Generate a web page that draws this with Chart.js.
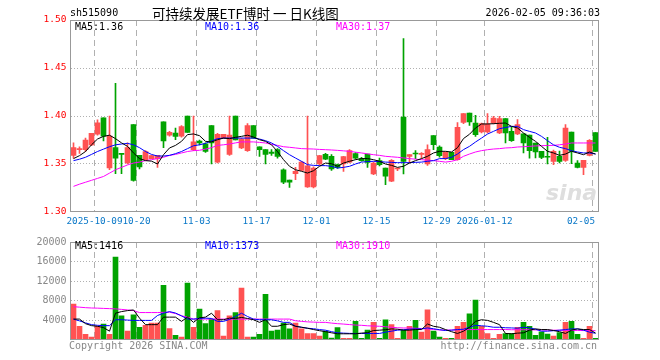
<!DOCTYPE html>
<html>
<head>
<meta charset="utf-8">
<script src="https://cdn.jsdelivr.net/npm/chart.js@4.4.1/dist/chart.umd.min.js"></script>
<style>
  html, body { margin: 0; padding: 0; background: #fff; }
  #wrap { position: relative; width: 660px; height: 360px; overflow: hidden; }
  canvas { position: absolute; left: 0; }
  .t { position: absolute; white-space: nowrap; font-family: "DejaVu Sans Mono", monospace; font-size: 10px; line-height: 12px; }
</style>
</head>
<body>
<div id="wrap">
  <canvas id="price" width="660" height="232" style="top:0"></canvas>
  <canvas id="vol" width="660" height="128" style="top:232px"></canvas>

  <div class="t" style="left:70px;top:7px;color:#000;">sh515090</div>
  <div class="t" style="left:152px;top:4px;font-family:'Noto Sans CJK SC',sans-serif;font-size:13.5px;line-height:18px;color:#000;">可持续发展ETF博时 一 日K线图</div>
  <div class="t" style="right:60px;top:7px;color:#000;">2026-02-05 09:36:03</div>

  <div class="t" style="left:75px;top:21px;color:#000;">MA5:1.36</div>
  <div class="t" style="left:205px;top:21px;color:#0000ff;">MA10:1.36</div>
  <div class="t" style="left:336px;top:21px;color:#ff00ff;">MA30:1.37</div>

  <div class="t" style="left:75px;top:240px;color:#000;">MA5:1416</div>
  <div class="t" style="left:205px;top:240px;color:#0000ff;">MA10:1373</div>
  <div class="t" style="left:336px;top:240px;color:#ff00ff;">MA30:1910</div>

  <div class="t" style="left:546px;top:180px;font-family:'DejaVu Sans',sans-serif;font-size:22px;line-height:26px;font-style:italic;font-weight:bold;color:#dedede;">sina</div>

  <div class="t" style="left:69px;top:340px;color:#888;">Copyright 2026 SINA.COM</div>
  <div class="t" style="right:63px;top:340px;color:#888;">http://finance.sina.com.cn</div>
</div>

<script>
// trading days shown on the chart
const dates = [
  '2025-09-25','2025-09-26','2025-09-29','2025-09-30',
  '2025-10-09','2025-10-10','2025-10-13','2025-10-14','2025-10-15','2025-10-16','2025-10-17',
  '2025-10-20','2025-10-21','2025-10-22','2025-10-23','2025-10-24',
  '2025-10-27','2025-10-28','2025-10-29','2025-10-30','2025-10-31',
  '2025-11-03','2025-11-04','2025-11-05','2025-11-06','2025-11-07',
  '2025-11-10','2025-11-11','2025-11-12','2025-11-13','2025-11-14',
  '2025-11-17','2025-11-18','2025-11-19','2025-11-20','2025-11-21',
  '2025-11-24','2025-11-25','2025-11-26','2025-11-27','2025-11-28',
  '2025-12-01','2025-12-02','2025-12-03','2025-12-04','2025-12-05',
  '2025-12-08','2025-12-09','2025-12-10','2025-12-11','2025-12-12',
  '2025-12-15','2025-12-16','2025-12-17','2025-12-18','2025-12-19',
  '2025-12-22','2025-12-23','2025-12-24','2025-12-25','2025-12-26',
  '2025-12-29','2025-12-30','2025-12-31',
  '2026-01-05','2026-01-06','2026-01-07','2026-01-08','2026-01-09',
  '2026-01-12','2026-01-13','2026-01-14','2026-01-15','2026-01-16',
  '2026-01-19','2026-01-20','2026-01-21','2026-01-22','2026-01-23',
  '2026-01-26','2026-01-27','2026-01-28','2026-01-29','2026-01-30',
  '2026-02-02','2026-02-03','2026-02-04','2026-02-05'
];

// x axis labels
const tickDates = ['2025-10-09','2025-10-20','2025-11-03','2025-11-17','2025-12-01','2025-12-15','2025-12-29','2026-01-12','2026-02-05'];
const tickTexts = ['2025-10-09','10-20','11-03','11-17','12-01','12-15','12-29','2026-01-12','02-05'];

const opens = [1.359,1.365,1.365,1.370,1.381,1.398,1.346,1.367,1.3605,1.351,
  1.391,1.359,1.3545,1.3556,1.3556,1.394,1.380,1.3823,1.379,1.400,
  1.365,1.374,1.371,1.390,1.352,1.377,1.360,1.400,1.3667,1.364,
  1.390,1.368,1.365,1.3625,1.365,1.344,1.3333,1.340,1.3434,1.326,
  1.326,1.350,1.360,1.358,1.3493,1.350,1.352,1.3608,1.3556,1.3604,
  1.3396,1.3535,1.3458,1.332,1.3448,1.399,1.358,1.3608,1.3601,1.350,
  1.3795,1.3677,1.3556,1.3622,1.3545,1.3934,1.4031,1.3927,1.3833,1.3833,
  1.3927,1.3823,1.3972,1.384,1.3813,1.3813,1.380,1.3719,1.3632,1.3573,
  1.3528,1.358,1.3538,1.3833,1.351,1.3465,1.359,1.3826];
const highs = [1.372,1.368,1.377,1.382,1.396,1.398,1.400,1.434,1.361,1.372,
  1.391,1.359,1.364,1.359,1.359,1.394,1.384,1.3875,1.390,1.400,
  1.400,1.375,1.372,1.390,1.382,1.381,1.400,1.400,1.377,1.392,
  1.390,1.368,1.365,1.365,1.366,1.345,1.3333,1.3465,1.3528,1.400,
  1.347,1.359,1.361,1.3597,1.350,1.358,1.365,1.362,1.357,1.3604,
  1.352,1.3562,1.3458,1.3545,1.3458,1.4806,1.3597,1.364,1.3618,1.370,
  1.3795,1.369,1.3625,1.3622,1.3931,1.4024,1.4031,1.4007,1.3927,1.4024,
  1.3997,1.3997,1.3972,1.3885,1.3962,1.3813,1.380,1.3719,1.3632,1.3778,
  1.3645,1.3635,1.391,1.3833,1.3535,1.3538,1.3754,1.3826];
const lows = [1.356,1.361,1.363,1.369,1.380,1.374,1.344,1.340,1.340,1.350,
  1.332,1.345,1.354,1.3556,1.3465,1.367,1.379,1.3753,1.378,1.383,
  1.364,1.370,1.362,1.350,1.351,1.377,1.359,1.375,1.366,1.363,
  1.377,1.358,1.350,1.359,1.356,1.3295,1.3257,1.3337,1.343,1.3257,
  1.325,1.349,1.3545,1.3434,1.3455,1.3424,1.351,1.355,1.353,1.3465,
  1.339,1.348,1.3285,1.3316,1.343,1.3396,1.351,1.3556,1.3559,1.3486,
  1.3649,1.357,1.3545,1.3545,1.354,1.392,1.3903,1.3788,1.3823,1.3823,
  1.3917,1.3816,1.3719,1.3736,1.3806,1.3615,1.3562,1.3563,1.3555,1.350,
  1.3493,1.351,1.3528,1.3503,1.3458,1.3389,1.3583,1.3632];
const closes = [1.367,1.366,1.375,1.382,1.393,1.379,1.379,1.356,1.360,1.367,
  1.333,1.347,1.363,1.3587,1.359,1.374,1.383,1.3788,1.389,1.383,
  1.373,1.372,1.363,1.372,1.381,1.381,1.380,1.375,1.376,1.390,
  1.377,1.365,1.360,1.361,1.358,1.331,1.331,1.3424,1.3521,1.348,
  1.3458,1.3587,1.355,1.3448,1.3465,1.3576,1.364,1.3562,1.3535,1.3517,
  1.351,1.3493,1.3372,1.3538,1.3458,1.3528,1.3597,1.3604,1.3604,1.3649,
  1.3701,1.3587,1.3625,1.3545,1.3882,1.4024,1.3938,1.3806,1.392,1.3917,
  1.3979,1.3972,1.3823,1.3743,1.391,1.3719,1.364,1.3625,1.3569,1.357,
  1.3632,1.3528,1.3875,1.3632,1.3465,1.3538,1.3747,1.3632];

// moving averages as drawn on the chart
const ma5 = [1.3556,1.3587,1.363,1.370,1.376,1.3788,1.380,1.3764,1.372,1.3684,
  1.3615,1.3556,1.3535,1.353,1.350,1.3597,1.3667,1.3694,1.3736,1.3806,
  1.3813,1.3795,1.3736,1.373,1.3753,1.377,1.3764,1.3778,1.3788,1.380,
  1.3781,1.3753,1.3736,1.370,1.363,1.3545,1.3476,1.344,1.3424,1.3406,
  1.343,1.3476,1.351,1.3503,1.3476,1.351,1.3528,1.3545,1.3556,1.3556,
  1.3545,1.3528,1.350,1.3486,1.3465,1.3476,1.351,1.3535,1.3556,1.358,
  1.3615,1.3632,1.3632,1.3625,1.367,1.3765,1.381,1.3875,1.3917,1.3917,
  1.392,1.3924,1.3927,1.3892,1.3875,1.3823,1.3778,1.3736,1.3684,1.3632,
  1.3615,1.359,1.3604,1.3632,1.3615,1.3597,1.3625,1.3604];
const ma10 = [1.3535,1.355,1.357,1.360,1.363,1.3655,1.368,1.370,1.3708,1.3715,
  1.370,1.367,1.363,1.360,1.3583,1.3583,1.359,1.3608,1.363,1.366,
  1.369,1.370,1.3715,1.374,1.3764,1.377,1.377,1.377,1.377,1.377,
  1.377,1.376,1.3743,1.3719,1.3684,1.3639,1.3597,1.3562,1.3528,1.3493,
  1.3486,1.3483,1.3483,1.3476,1.3458,1.3465,1.3476,1.350,1.352,1.3525,
  1.3528,1.3525,1.352,1.3517,1.3514,1.3514,1.3514,1.3517,1.352,1.3528,
  1.3535,1.3556,1.3556,1.357,1.3604,1.365,1.3684,1.3729,1.377,1.3812,
  1.384,1.3868,1.388,1.3892,1.3892,1.3858,1.384,1.3823,1.3788,1.3743,
  1.370,1.3674,1.366,1.3639,1.3625,1.3615,1.3615,1.3604];
const ma30 = [1.3267,1.329,1.331,1.333,1.335,1.337,1.3405,1.344,1.3465,1.349,
  1.351,1.352,1.3535,1.3545,1.3556,1.357,1.359,1.360,1.3615,1.363,
  1.3639,1.3643,1.3655,1.367,1.3694,1.370,1.3708,1.372,1.373,1.373,
  1.373,1.3725,1.3719,1.3705,1.3694,1.368,1.3674,1.3667,1.366,1.3658,
  1.3656,1.3652,1.3649,1.3646,1.3642,1.3637,1.3632,1.3623,1.3615,1.3606,
  1.3597,1.359,1.358,1.3575,1.357,1.3563,1.3556,1.355,1.3545,1.354,
  1.3535,1.3528,1.352,1.3528,1.3545,1.358,1.3604,1.3625,1.3639,1.3649,
  1.3656,1.366,1.3667,1.367,1.3677,1.368,1.3684,1.3688,1.3691,1.3693,
  1.3694,1.370,1.3708,1.3719,1.3719,1.3719,1.3719,1.3719];

// volume (hands) and its moving averages
const vols = [7333,2800,1133,600,2800,3267,1133,16933,4933,1800,
  5133,2600,3000,3467,3467,11133,2333,933,600,11600,
  2600,6333,3333,4267,6000,800,4933,5600,10600,600,
  600,1133,9333,1800,2000,3467,2267,3467,2267,1333,
  1333,800,1800,400,2533,333,333,3800,333,2000,
  3600,333,4133,3133,333,2000,2800,4000,1600,6133,
  1800,600,333,333,2800,3600,5333,8133,2800,1333,
  333,1133,1333,1333,2600,3600,2800,933,1667,1200,
  800,1500,3600,3800,1133,333,2800,333];
const vma5 = [4267,4267,3333,2933,2800,2533,1800,5467,5800,6000,
  6133,4467,3133,3133,3133,4667,4667,4667,3800,4667,
  3600,4533,4667,5467,4133,4133,4467,4400,4600,4400,
  4133,3600,4133,2800,2800,3133,3267,2800,2600,2400,
  2133,1900,1700,1467,1267,1267,1267,1267,1400,1500,
  1933,2000,2100,2267,2200,2000,2000,2133,2133,3267,
  2800,2600,2133,1700,1333,1800,2600,3800,4133,4000,
  3600,3133,1333,1267,1400,1467,2000,2267,2133,2133,
  1933,1700,1333,2000,2267,2133,2133,1416];
const vma10 = [4267,3900,3500,3133,3000,2933,2933,4133,4133,4067,
  4000,4000,4000,4000,5000,5467,5800,5500,4933,4267,
  4267,4400,4467,4400,3800,3800,4200,4800,5467,4800,
  4267,4133,4133,4133,3900,3600,3600,2800,2600,2400,
  2300,2133,2000,1700,1467,1400,1350,1333,1333,1333,
  1333,1333,1600,1800,2000,2100,2200,2267,2267,2467,
  2300,2100,1933,2000,2133,2200,2600,3000,2900,2800,
  2600,2600,2500,2467,2400,2600,2500,2200,1800,1800,
  1900,2000,2133,2267,2267,2000,1600,1373];
const vma30 = [6800,6700,6600,6533,6500,6450,6400,6350,6250,6133,
  6000,5600,5600,5600,5600,5650,5667,5400,4933,4667,
  4267,4267,4267,4267,4267,4267,4267,4267,4267,4267,
  4267,4267,4267,4267,4267,4267,4267,3933,3800,3700,
  3650,3600,3600,3450,3333,3250,3150,3050,3000,2900,
  2850,2800,2700,2600,2500,2450,2450,2400,2333,2250,
  2150,2050,2000,2050,2100,2100,2133,2133,2133,2133,
  2133,2133,2133,2100,2100,2100,2100,2050,2050,2000,
  2000,2000,1950,1950,1950,1920,1910,1910];

const RED = '#ff5252';
const GREEN = '#00a300';
const GRID = '#b0b0b0';
const MONO = '"DejaVu Sans Mono", monospace';

const tickIdx = tickDates.map(d => dates.indexOf(d));
const candleColors = closes.map((c, i) => c >= opens[i] ? RED : GREEN);

// panel border
const frame = {
  id: 'frame',
  afterDraw(chart) {
    const { ctx, chartArea: a } = chart;
    const x0 = Math.floor(a.left) + 0.5, x1 = Math.floor(a.right) + 0.5;
    const y0 = Math.floor(a.top) + 0.5, y1 = Math.ceil(a.bottom) - 0.5;
    ctx.save();
    ctx.strokeStyle = '#999';
    ctx.lineWidth = 1;
    ctx.strokeRect(x0, y0, x1 - x0, y1 - y0);
    ctx.restore();
  }
};

// date labels under the price panel
const dateLabels = {
  id: 'dateLabels',
  afterDraw(chart) {
    const { ctx } = chart;
    const xs = chart.scales.x;
    ctx.save();
    ctx.font = '9.3px ' + MONO;
    ctx.fillStyle = '#0a78c8';
    ctx.textBaseline = 'middle';
    tickIdx.forEach((idx, k) => {
      const x = xs.getPixelForValue(idx) - 3;
      const w = ctx.measureText(tickTexts[k]).width;
      let left = x - w / 2;
      if (left < 63) left = 63;
      if (left + w > 595) left = 595 - w;
      ctx.fillText(tickTexts[k], left, 222);
    });
    ctx.restore();
  }
};

const xGrid = {
  offset: true,
  drawTicks: false,
  color: c => tickIdx.includes(c.index) ? GRID : 'rgba(0,0,0,0)'
};

const lineSet = (data, color) => ({
  type: 'line', data, borderColor: color, borderWidth: 1,
  pointRadius: 0, tension: 0, fill: false, order: 0
});

new Chart(document.getElementById('price'), {
  type: 'bar',
  data: {
    labels: dates,
    datasets: [
      lineSet(ma5, '#000000'),
      lineSet(ma10, '#0000ff'),
      lineSet(ma30, '#ff00ff'),
      { data: opens.map((o, i) => [o, closes[i]]), backgroundColor: candleColors,
        barThickness: 5, minBarLength: 1, grouped: false, order: 1 },
      { data: lows.map((l, i) => [l, highs[i]]), backgroundColor: candleColors,
        barThickness: 1, grouped: false, order: 2 }
    ]
  },
  options: {
    responsive: false,
    animation: false,
    events: [],
    plugins: { legend: { display: false }, tooltip: { enabled: false } },
    layout: { padding: { top: 20, right: 61.5, bottom: 20, left: 0 } },
    scales: {
      x: {
        offset: true,
        ticks: { display: false },
        grid: xGrid,
        border: { display: false, dash: [6, 4] }
      },
      y: {
        min: 1.30, max: 1.50,
        afterFit: s => { s.width = 70.5; },
        ticks: { stepSize: 0.05, callback: v => v.toFixed(2), color: '#ff0000',
                 font: { family: MONO, size: 9.5 }, padding: 4 },
        grid: { drawTicks: false,
                color: c => (c.index === 0 || c.index === 4) ? 'rgba(0,0,0,0)' : GRID },
        border: { display: false, dash: [1, 2] }
      }
    }
  },
  plugins: [frame, dateLabels]
});

new Chart(document.getElementById('vol'), {
  type: 'bar',
  data: {
    labels: dates,
    datasets: [
      lineSet(vma5, '#000000'),
      lineSet(vma10, '#0000ff'),
      lineSet(vma30, '#ff00ff'),
      { data: vols, backgroundColor: candleColors, barThickness: 5, grouped: false, order: 1 }
    ]
  },
  options: {
    responsive: false,
    animation: false,
    events: [],
    plugins: { legend: { display: false }, tooltip: { enabled: false } },
    layout: { padding: { top: 8, right: 61.5, bottom: 20, left: 0 } },
    scales: {
      x: {
        offset: true,
        ticks: { display: false },
        grid: xGrid,
        border: { display: false, dash: [6, 4] }
      },
      y: {
        min: 0, max: 20000,
        afterFit: s => { s.width = 70.5; },
        ticks: { stepSize: 4000, callback: v => v === 0 ? '' : String(v), color: '#888',
                 font: { family: MONO, size: 10 }, padding: 4 },
        grid: { drawTicks: false,
                color: c => (c.index === 0 || c.index === 5) ? 'rgba(0,0,0,0)' : GRID },
        border: { display: false, dash: [1, 2] }
      }
    }
  },
  plugins: [frame]
});
</script>
</body>
</html>
